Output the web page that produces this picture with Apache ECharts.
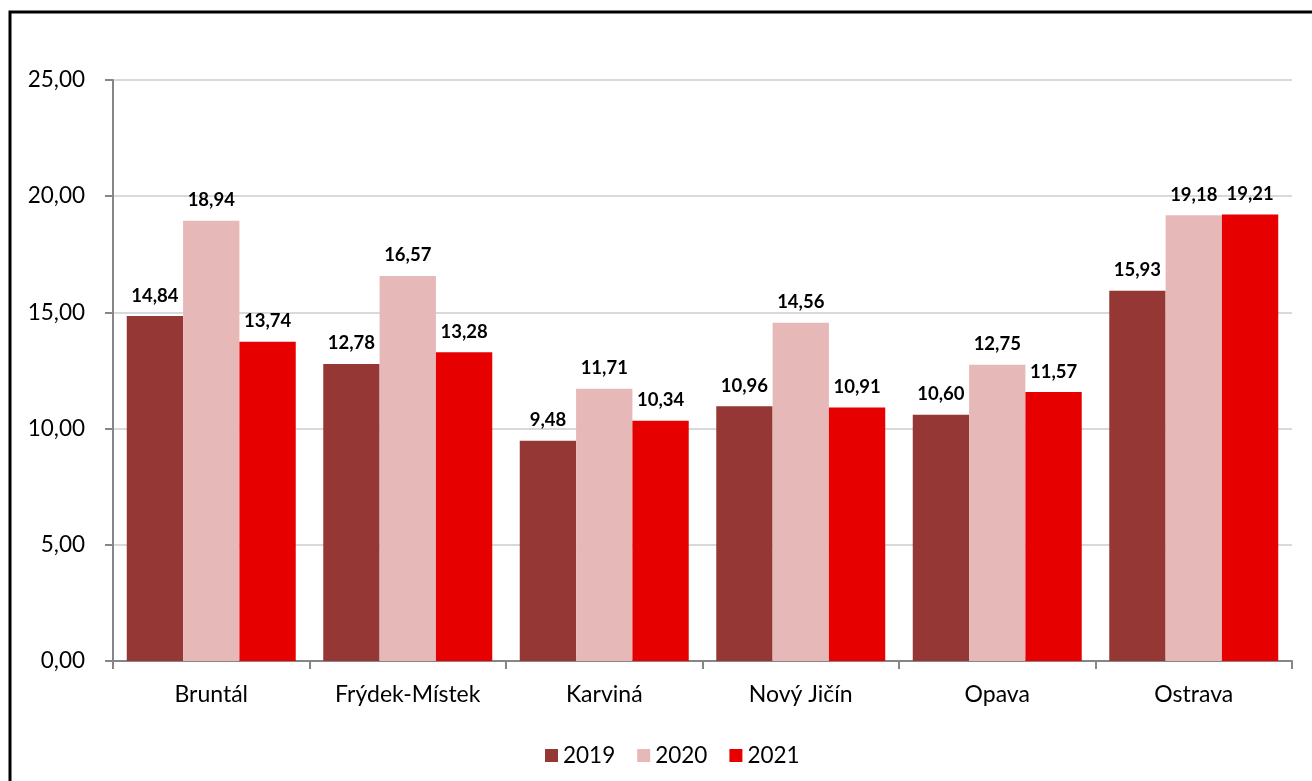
<!DOCTYPE html>
<html>
<head>
<meta charset="utf-8">
<script src="https://cdn.jsdelivr.net/npm/echarts@6/dist/echarts.min.js"></script>
<style>
  html, body { margin: 0; padding: 0; background: #fff; }
  #chart { width: 1312px; height: 781px; }
</style>
</head>
<body>
<div id="chart"></div>
<script>
// okresy
const categories = ['Bruntál', 'Frýdek-Místek', 'Karviná', 'Nový Jičín', 'Opava', 'Ostrava']
const years = ['2019', '2020', '2021']
const values2019 = [14.84, 12.78, 9.48, 10.96, 10.60, 15.93]
const values2020 = [18.94, 16.57, 11.71, 14.56, 12.75, 19.18]
const values2021 = [13.74, 13.28, 10.34, 10.91, 11.57, 19.21]
const yTicks = [0, 5, 10, 15, 20, 25]

const colors = ['#953735', '#E6B9B8', '#E60000']
const fontFamily = 'Lato, "DejaVu Sans", sans-serif'

const fmt = v => v.toFixed(2).replace('.', ',')

const chart = echarts.init(document.getElementById('chart'))

const makeSeries = (name, data, color) => ({
  name: name,
  type: 'bar',
  data: data,
  barGap: '0%',
  barCategoryGap: '14%',
  itemStyle: { color: color },
  label: {
    show: true,
    position: 'top',
    distance: 11,
    formatter: p => fmt(p.value),
    color: '#000',
    fontWeight: 'bold',
    fontSize: 18.5,
    fontFamily: fontFamily
  }
})

const option = {
  animation: false,
  color: colors,
  graphic: [{
    type: 'rect',
    shape: { x: 10, y: 12, width: 1400, height: 900 },
    style: { fill: 'none', stroke: '#000', lineWidth: 3 },
    silent: true
  }],
  grid: {
    left: 113,
    right: 20,
    top: 80,
    bottom: 120
  },
  legend: {
    data: years,
    bottom: 9,
    left: 540,
    itemWidth: 13,
    itemHeight: 13,
    itemGap: 22,
    icon: 'rect',
    textStyle: { fontSize: 22.5, color: '#000', fontFamily: fontFamily }
  },
  xAxis: {
    type: 'category',
    data: categories,
    axisLine: { lineStyle: { color: '#868686', width: 2 } },
    axisTick: { show: true, length: 8, lineStyle: { color: '#868686', width: 2 } },
    axisLabel: { fontSize: 23, color: '#000', margin: 22, fontFamily: fontFamily }
  },
  yAxis: {
    type: 'value',
    min: yTicks[0],
    max: yTicks[yTicks.length - 1],
    interval: 5,
    axisLine: { show: true, lineStyle: { color: '#868686', width: 2 } },
    axisTick: { show: true, length: 8, lineStyle: { color: '#868686', width: 2 } },
    splitLine: { lineStyle: { color: '#d9d9d9', width: 2 } },
    axisLabel: { fontSize: 22.5, color: '#000', margin: 28, formatter: v => fmt(v), fontFamily: fontFamily }
  },
  series: [
    makeSeries(years[0], values2019, colors[0]),
    makeSeries(years[1], values2020, colors[1]),
    makeSeries(years[2], values2021, colors[2])
  ]
}

chart.setOption(option)
</script>
</body>
</html>
